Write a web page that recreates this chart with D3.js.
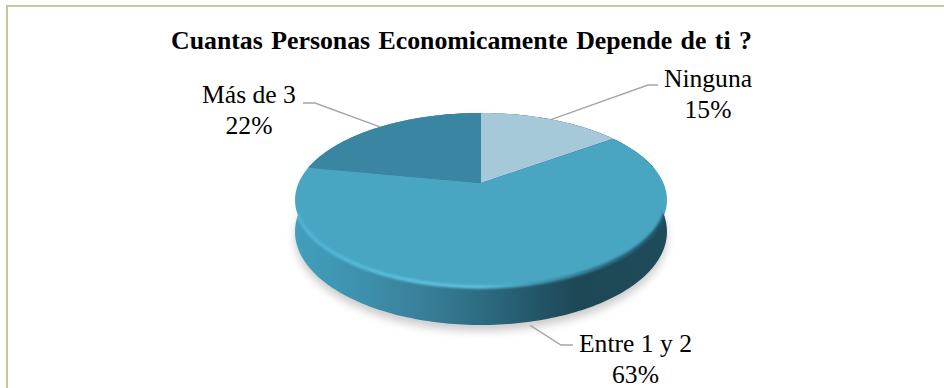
<!DOCTYPE html>
<html>
<head>
<meta charset="utf-8">
<script src="https://cdn.jsdelivr.net/npm/d3@7"></script>
<style>
html, body { margin: 0; padding: 0; background: #fff; }
svg { display: block; }
text { font-family: "Liberation Serif", serif; fill: #000; }
</style>
</head>
<body>
<svg id="chart" width="944" height="388"></svg>
<script>
const chartTitle = "Cuantas Personas Economicamente Depende de ti ?";
const categories = ["Ninguna", "Entre 1 y 2", "Más de 3"];
const shares = [15, 63, 22];
const sliceColors = ["#a6c9d9", "#49a6c3", "#3a85a1"];

// Label placement for each slice: text centre, first baseline, and leader elbow/end.
const labelLayout = [
  { x: 708, y: 87, elbow: [648, 85], end: [658, 85] },
  { x: 635.5, y: 352, elbow: [561, 345], end: [573, 345] },
  { x: 249, y: 103, elbow: [315, 103], end: [303, 103] }
];

const svg = d3.select("#chart");
const defs = svg.append("defs");

// Perspective disc: maps a unit circle onto the screen, with the apex above the ellipse centre.
const apex = { x: 481, y: 183 };
const tilt = -0.195, scaleX = 182.4, scaleY = 83.7, thickness = 30.6;
function project(angle, radius, drop) {
  const u = radius * Math.sin(angle), v = -radius * Math.cos(angle);
  const w = 1 + tilt * v;
  return [apex.x + scaleX * u / w, apex.y + (scaleY * v + drop) / w];
}
const line = d3.line();
const arcPoints = (a0, a1, drop = 0, r = 1) => {
  const n = Math.max(2, Math.ceil(Math.abs(a1 - a0) / 0.02));
  return d3.range(n + 1).map(i => project(a0 + (a1 - a0) * i / n, r, drop));
};

const TAU = Math.PI * 2;
const pie = d3.pie().sort(null).startAngle(0).endAngle(TAU);
const slices = pie(shares);

// Frame along the top and left edges
svg.append("rect").attr("x", 6).attr("y", 5).attr("width", 938).attr("height", 2).attr("fill", "#cfc8a4");
svg.append("rect").attr("x", 6).attr("y", 5).attr("width", 2).attr("height", 383).attr("fill", "#cbc49c");

// Soft filters
defs.append("filter").attr("id", "blurWide").attr("x", "-20%").attr("y", "-20%").attr("width", "140%").attr("height", "140%")
  .append("feGaussianBlur").attr("stdDeviation", 4);
defs.append("filter").attr("id", "blurRim").attr("x", "-20%").attr("y", "-20%").attr("width", "140%").attr("height", "140%")
  .append("feGaussianBlur").attr("stdDeviation", 1.2);

// Outline of the whole disc including its depth
const frontFrom = Math.PI / 2 - 0.2, frontTo = 3 * Math.PI / 2 + 0.2;
const bodyOutline = [
  ...arcPoints(frontTo, frontTo + TAU - (frontTo - frontFrom), 0),
  ...arcPoints(frontFrom, frontTo, thickness)
];
svg.append("path").attr("d", line(bodyOutline) + "Z")
  .attr("transform", "translate(0,6)")
  .attr("fill", "#9a9a9a").attr("opacity", 0.5)
  .attr("filter", "url(#blurWide)");

// Side wall, shaded from left to right
const sideGrad = defs.append("linearGradient").attr("id", "sideShade")
  .attr("gradientUnits", "userSpaceOnUse")
  .attr("x1", apex.x - 190).attr("x2", apex.x + 190).attr("y1", 0).attr("y2", 0);
[[0, "#41a0bd"], [0.15, "#3e94b0"], [0.32, "#3a829d"], [0.5, "#2d6c82"], [0.65, "#235567"], [0.75, "#1e4856"], [1, "#1e4b5a"]]
  .forEach(([o, c]) => sideGrad.append("stop").attr("offset", o).attr("stop-color", c));
svg.append("path").attr("d", line(bodyOutline) + "Z").attr("fill", "url(#sideShade)");

// Top face slices
const topFace = svg.append("g");
slices.forEach((s, i) => {
  const pts = [[apex.x, apex.y], ...arcPoints(s.startAngle, s.endAngle)];
  topFace.append("path").attr("d", line(pts) + "Z").attr("fill", sliceColors[i]);
});

// Bevel on the front rim of the top face, kept inside the disc outline
const rimClip = defs.append("clipPath").attr("id", "bodyClip");
rimClip.append("path").attr("d", line(bodyOutline) + "Z");
const rimGrad = defs.append("linearGradient").attr("id", "rimShade")
  .attr("gradientUnits", "userSpaceOnUse")
  .attr("x1", apex.x - 190).attr("x2", apex.x + 190).attr("y1", 0).attr("y2", 0);
[[0, "#4fb3d2"], [0.3, "#5cc1de"], [0.5, "#5cc1de"], [0.62, "#45a0bc"], [0.78, "#327a92"], [1, "#1f5265"]]
  .forEach(([o, c]) => rimGrad.append("stop").attr("offset", o).attr("stop-color", c));
svg.append("g").attr("clip-path", "url(#bodyClip)")
  .append("path")
  .attr("d", line(arcPoints(Math.PI / 2 - 0.1, 3 * Math.PI / 2 + 0.1)))
  .attr("fill", "none")
  .attr("stroke", "url(#rimShade)")
  .attr("stroke-width", 3.5)
  .attr("filter", "url(#blurRim)");

// Leader lines and labels
const anchorDrop = d => {
  const mid = (d.startAngle + d.endAngle) / 2;
  return Math.cos(mid) < -0.5 ? thickness + 3 : 0;
};
const labels = svg.append("g");
slices.forEach((s, i) => {
  const mid = (s.startAngle + s.endAngle) / 2;
  const layout = labelLayout[i];
  const start = project(mid, 1, anchorDrop(s));
  labels.append("path")
    .attr("d", line([start, layout.elbow, layout.end]))
    .attr("fill", "none").attr("stroke", "#a6a6a6").attr("stroke-width", 1.4);
  const t = labels.append("text").attr("text-anchor", "middle").attr("font-size", 25.6);
  t.append("tspan").attr("x", layout.x).attr("y", layout.y).text(categories[i]);
  t.append("tspan").attr("x", layout.x).attr("y", layout.y + 30.5).text(shares[i] + "%");
});

// Title
svg.append("text")
  .attr("x", 461.5).attr("y", 48.5)
  .attr("text-anchor", "middle")
  .attr("font-size", 25.8).attr("font-weight", "bold")
  .attr("word-spacing", 2)
  .text(chartTitle);
</script>
</body>
</html>
